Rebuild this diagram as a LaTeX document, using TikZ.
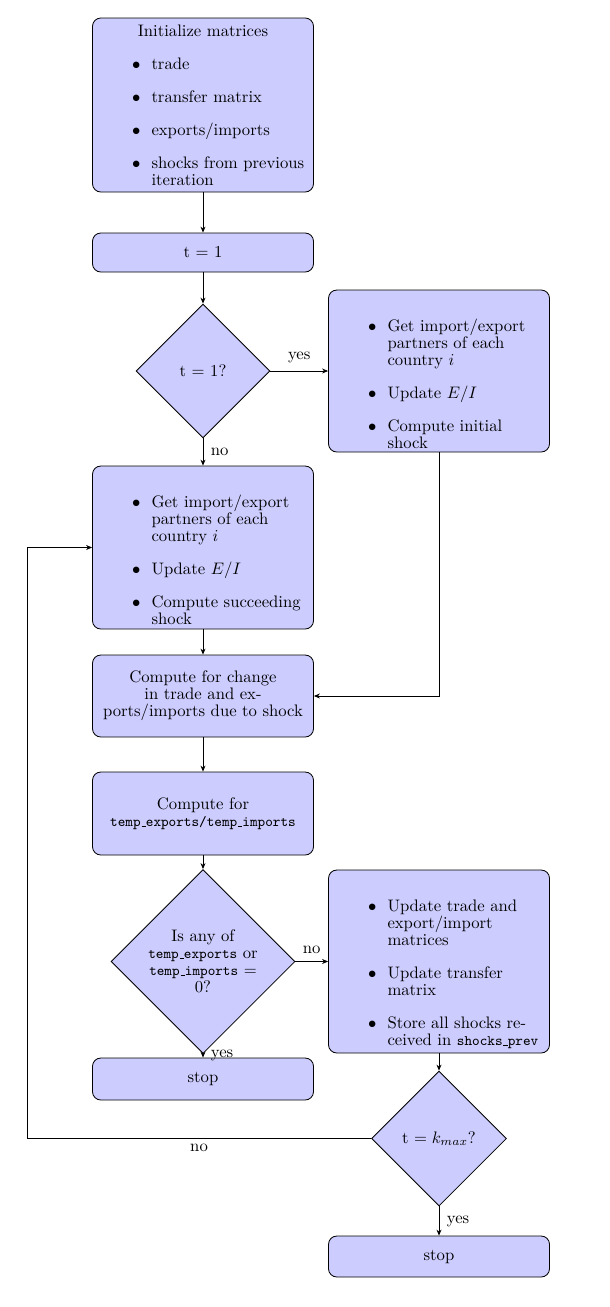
\documentclass[tikz,border=0pt]{standalone}
\usetikzlibrary{shapes.geometric,arrows.meta}
\newlength{\bind}\setlength{\bind}{31.4pt}
\newcommand{\fs}{\fontsize{10pt}{10.2pt}\selectfont}
\newcommand{\bitem}[1]{\par\hangindent=\bind\hangafter=0\noindent\llap{$\bullet$\hspace{6.6pt}}#1\par}
\newcommand{\bgap}{\vspace{9.6pt}}
\newcommand{\us}{\kern.06em\vbox{\hrule width.3em}}
\newcommand{\ttt}[1]{{\fontsize{8.7pt}{10.2pt}\selectfont\ttfamily #1}}
\begin{document}
\begin{tikzpicture}[x=0.6pt,y=-0.6pt,
  box/.style={draw, fill=blue!20, rounded corners=5pt, minimum width=132.6pt,
    text width=124.6pt, inner xsep=4pt, inner ysep=2pt, align=center, font=\fs, line width=0.5pt},
  lbox/.style={box, align=left},
  dec/.style={diamond, draw, fill=blue!20, aspect=1, inner sep=0pt, align=center, font=\fs, line width=0.5pt},
  arr/.style={-{Stealth[length=3.6pt,width=3pt]}, line width=0.5pt},
  lab/.style={font=\fs, inner sep=4.5pt}]
\useasboundingbox (0,0) rectangle (609,1307);

\node[lbox, minimum height=104.4pt] (init) at (203,105) {%
  {\centering Initialize matrices\par}\bgap
  \bitem{trade}\bgap
  \bitem{transfer matrix}\bgap
  \bitem{exports/imports}\bgap
  \bitem{shocks from previous\newline iteration}};

\node[box, minimum height=23.4pt] (t1) at (203,252.5) {t $=$ 1};

\node[dec, minimum width=80.4pt, minimum height=80.4pt] (d1) at (203,371) {t $=$ 1?};

\node[lbox, minimum height=97.2pt] (rb1) at (439,371) {\vspace*{12.3pt}%
  \bitem{Get import/export\newline partners of each\newline country $i$}\bgap
  \bitem{Update $E/I$}\bgap
  \bitem{Compute initial\newline shock}};

\node[lbox, minimum height=97.8pt] (b3) at (203,547.5) {\vspace*{12.3pt}%
  \bitem{Get import/export\newline partners of each\newline country $i$}\bgap
  \bitem{Update $E/I$}\bgap
  \bitem{Compute succeeding\newline shock}};

\node[box, minimum height=49.2pt] (b4) at (203,696) {Compute for change\\in trade and ex-\\ports/imports due to shock};

\node[box, minimum height=49.8pt] (b5) at (203,813.5) {Compute for\\\ttt{temp\us exports/temp\us imports}};

\node[dec, minimum width=110.4pt, minimum height=110.4pt] (d2) at (203,961.5) {Is any of\\\ttt{temp\us exports} or\\\ttt{temp\us imports} $=$\\0?};

\node[lbox, minimum height=109.8pt] (rb2) at (439,961.5) {\vspace*{12.3pt}%
  \bitem{Update trade and\newline export/import\newline matrices}\bgap
  \bitem{Update transfer\newline matrix}\bgap
  \bitem{Store all shocks re-\newline ceived in \ttt{shocks\us prev}}};

\node[box, minimum height=25.2pt] (stop1) at (203,1079) {stop};

\node[dec, minimum width=81pt, minimum height=81pt] (d3) at (439,1138.5) {t $= k_{max}$?};

\node[box, minimum height=24.6pt] (stop2) at (439,1256.5) {stop};

\coordinate (lp) at (27,0);

\draw[arr] (init) -- (t1);
\draw[arr] (t1) -- (d1);
\draw[arr] (d1.east) -- node[lab,above]{yes} (d1.east -| rb1.west);
\draw[arr] (d1.south) -- node[lab,right]{no} (b3.north);
\draw[arr] (rb1.south) |- (b4.east);
\draw[arr] (b3) -- (b4);
\draw[arr] (b4) -- (b5);
\draw[arr] (b5) -- (d2);
\draw[arr] (d2.east) -- node[lab,above]{no} (d2.east -| rb2.west);
\draw[arr] (d2.south) -- node[lab,right]{yes} (stop1.north);
\draw[arr] (rb2.south) -- (d3.north);
\draw[arr] (d3.south) -- node[lab,right]{yes} (stop2.north);
\draw[arr] (d3.west) -- node[lab,below,inner sep=3pt]{no} (d3.west -| lp) |- (b3.west);
\end{tikzpicture}
\end{document}
